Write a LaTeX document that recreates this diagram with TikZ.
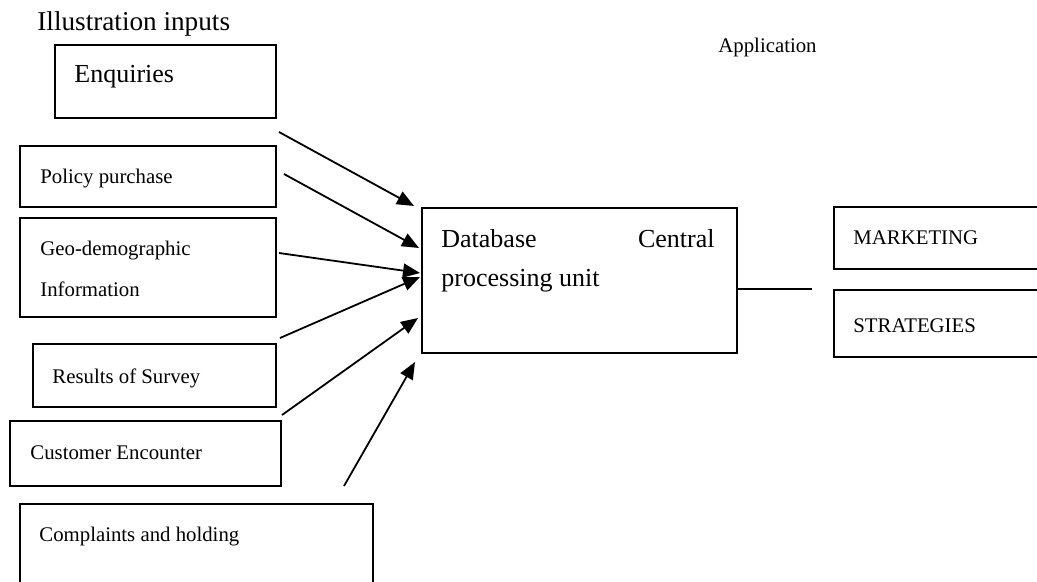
\documentclass[tikz,border=0pt]{standalone}
\usepackage{fontspec}
\setmainfont{Liberation Serif}
\usetikzlibrary{shapes,arrows.meta}
\tikzstyle{box} = [draw, rectangle, line width=0.9pt, inner sep=0pt,
    anchor=north west]
\tikzstyle{txt} = [inner sep=0pt, anchor=base west, font=\fontsize{10.4}{12}\selectfont]
\tikzstyle{big} = [inner sep=0pt, anchor=base west, font=\fontsize{13}{15}\selectfont]
\tikzstyle{link} = [line width=0.9pt, -{Triangle[length=8.5pt,width=7pt]}]

\begin{document}
\begin{tikzpicture}[x=0.5pt,y=-0.5pt]
\useasboundingbox (0,0) rectangle (1037,582);
\clip (0,0) rectangle (1037,582);

% arrow ends
\coordinate (S1) at (279,132);
\coordinate (S2) at (284,174);
\coordinate (S3) at (279,253);
\coordinate (S4) at (280,338);
\coordinate (S5) at (282,415);
\coordinate (S6) at (344,486);

\coordinate (T1) at (414,206);
\coordinate (T2) at (419,248);
\coordinate (T3) at (420,273);
\coordinate (T4) at (420,277);
\coordinate (T5) at (418,318);
\coordinate (T6) at (415,362);

\coordinate (out) at (812,289);

% input boxes
\node[big, font=\fontsize{13.6}{16}\selectfont] (title) at (37,31) {Illustration inputs};
\node[box, minimum width=110.5pt, minimum height=36.5pt] (enq) at (54,44) {};
\node[big] (enqtxt) at (74,83) {Enquiries};

\node[box, minimum width=128pt, minimum height=30.5pt] (pol) at (19,145) {};
\node[txt] (poltxt) at (40,184) {Policy purchase};

\node[box, minimum width=128pt, minimum height=49.5pt] (geo) at (19,217) {};
\node[txt] (geotxt) at (40,256) {Geo-demographic};
\node[txt] (geotxtb) at (40,297) {Information};

\node[box, minimum width=121.5pt, minimum height=31.5pt] (res) at (32,343) {};
\node[txt] (restxt) at (52,383) {Results of Survey};

\node[box, minimum width=135.5pt, minimum height=32.5pt] (cust) at (9,420) {};
\node[txt] (custtxt) at (30,459) {Customer Encounter};

\node[box, minimum width=176.5pt, minimum height=50pt] (comp) at (19,503) {};
\node[txt] (comptxt) at (39,541) {Complaints and holding};

% central unit
\node[box, minimum width=157.5pt, minimum height=72.5pt] (db) at (421,207) {};
\node[big] (dbtxt) at (441,248) {Database};
\node[big, anchor=base east] (dbtxtb) at (715,248) {Central};
\node[big] (dbtxtc) at (441,287) {processing unit};

% application side
\node[txt] (app) at (718,53) {Application};
\node[box, minimum width=125pt, minimum height=31pt] (mkt) at (833,206) {};
\node[txt] (mkttxt) at (853,245) {MARKETING};
\node[box, minimum width=125pt, minimum height=33.5pt] (strat) at (833,289) {};
\node[txt] (strattxt) at (853,333) {STRATEGIES};

\draw[link] (S1) -- (T1);
\draw[link] (S2) -- (T2);
\draw[link] (S3) -- (T3);
\draw[link] (S4) -- (T4);
\draw[link] (S5) -- (T5);
\draw[link] (S6) -- (T6);

\draw[line width=0.8pt] (db.east |- out) -- (out);
\end{tikzpicture}
\end{document}
